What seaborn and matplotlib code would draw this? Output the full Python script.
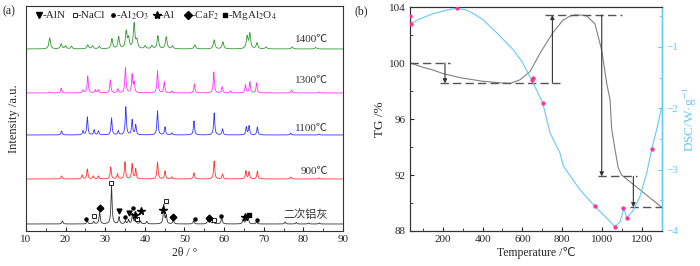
import numpy as np
import pandas as pd
import matplotlib
matplotlib.use('Agg')
import matplotlib.pyplot as plt
import seaborn as sns

sns.set_theme(style='ticks')
plt.rcParams['font.family'] = ['Liberation Serif', 'DejaVu Sans', 'Noto Sans CJK SC']
plt.rcParams['mathtext.fontset'] = 'stix'
plt.rcParams['font.size'] = 8

# ---- (a) XRD: peak positions (2theta) and heights ----
green_pos = [16.0, 18.9, 20.0, 21.5, 25.6, 26.8, 28.5, 31.7, 33.4, 35.3, 35.9, 37.3, 38.0, 40.1, 41.8,
             43.3, 45.4, 47.0, 52.6, 57.5, 59.7, 65.8, 66.5, 68.3, 70.6, 77.2, 83.1]
green_h = [11, 5, 3, 2.5, 4, 3, 2.5, 10, 12, 17, 10, 25, 8, 3, 3,
           13, 12, 3, 4, 9, 7, 12, 15, 6, 2, 2, 1.5]
magenta_pos = [16.0, 18.9, 24.4, 25.6, 27.5, 28.3, 31.3, 33.2, 35.1, 36.8, 37.3, 43.2, 44.9, 46.8,
               52.5, 57.4, 59.5, 61.6, 65.4, 66.5, 68.2, 77.0, 84.0]
magenta_h = [1, 5, 3, 17, 3, 3, 13, 4, 25, 18, 10, 22, 11, 2,
             9, 21, 6, 2, 8, 11, 10, 3, 1]
blue_pos = [19.0, 24.4, 25.5, 27.2, 28.3, 31.6, 33.3, 35.2, 36.8, 37.7, 43.2, 45.1, 46.8,
            52.4, 57.5, 59.6, 65.6, 66.3, 68.4, 76.8, 84.0]
blue_h = [4, 4, 18, 5, 4, 17, 4, 28, 15, 10, 24, 8, 2,
          14, 22, 6, 8, 9, 8, 2, 1]
red_pos = [19.0, 24.2, 25.5, 27.0, 28.3, 31.4, 33.1, 35.0, 36.8, 37.7, 43.2, 45.1, 46.8,
           52.4, 57.5, 59.6, 65.5, 66.3, 68.4, 76.8, 84.0]
red_h = [3, 4, 10, 3, 3, 12, 5, 17, 15, 10, 17, 8, 2,
         6, 18, 5, 8, 7, 8, 2, 1]
black_pos = [19.2, 25.5, 27.1, 28.6, 31.6, 33.5, 35.1, 35.9, 36.9, 37.6, 38.9, 40.5, 44.8, 45.4,
             47.2, 52.3, 55.9, 56.5, 57.3, 59.4, 64.8, 65.6, 66.1, 68.2, 75.4, 78.2, 81.3, 84.0]
black_h = [3, 3, 2.5, 12, 38, 7, 3, 4, 10, 6, 3, 2.5, 19, 8,
           4, 3, 4, 3, 3, 7, 5, 6, 5, 2, 2, 1.5, 1, 1]

samples = ['1400℃', '1300℃', '1100℃', '900℃', '二次铝灰']
sample_pos = [green_pos, magenta_pos, blue_pos, red_pos, black_pos]
sample_h = [green_h, magenta_h, blue_h, red_h, black_h]
offsets = [182, 138, 96, 52, 7]
colors = ['#2f9a2f', '#ff33ff', '#3333ff', '#ff3333', '#333333']

# phase markers on the raw ash pattern: (2theta, height)
aln_x, aln_y = [33.4, 35.9], [20.3, 18]
nacl_x, nacl_y = [27.3, 31.5, 38.0, 45.3, 57.4], [14.7, 48, 12, 29.7, 10.7]
al2o3_x, al2o3_y = [25.2, 35.1, 37.0, 52.6, 59.3, 68.2], [12, 14, 23, 12, 14.7, 10.7]
al_x, al_y = [37.6, 39.0, 44.7, 65.2], [16.3, 19.7, 20.7, 14]
caf2_x, caf2_y = [28.6, 47.1, 56.1], [23, 14, 13]
mgal_x, mgal_y = [66.2], [16.3]

phase_names = ['-AlN', '-NaCl', '-Al$_2$O$_3$', '-Al', '-CaF$_2$', '-MgAl$_2$O$_4$']
phase_key_x = [13.4, 22.4, 32.1, 43.1, 50.9, 60.3]

# ---- (b) TG / DSC ----
tg_T = [36, 100, 150, 200, 287, 400, 500, 540, 588, 639, 689, 755, 805, 840, 865, 900, 924, 965,
        999, 1024, 1041, 1049, 1066, 1082, 1099, 1300]
tg_v = [100.0, 99.7, 99.5, 99.25, 98.95, 98.7, 98.57, 98.55, 98.8, 99.4, 100.7, 102.2, 103.07, 103.35,
        103.43, 103.42, 103.36, 102.8, 100.9, 98.55, 97.36, 95.3, 93.8, 92.5, 92.0, 89.7]
dsc_T = [33, 40, 80, 150, 220, 270, 320, 360, 403, 471, 555, 600, 647, 702, 739, 789, 806, 890, 965,
         1024, 1066, 1091, 1111, 1125, 1158, 1191, 1225, 1250, 1275, 1300]
dsc_v = [-0.50, -0.62, -0.55, -0.46, -0.40, -0.37, -0.40, -0.47, -0.56, -0.77, -1.05, -1.25, -1.54,
         -1.91, -2.40, -2.73, -2.94, -3.33, -3.60, -3.79, -3.93, -3.85, -3.63, -3.79, -3.66, -3.44,
         -3.06, -2.67, -2.35, -1.99]
pink_T = [33, 40, 270, 647, 652, 702, 965, 1066, 1108, 1125, 1250]
pink_v = [-0.50, -0.62, -0.37, -1.54, -1.51, -1.91, -3.60, -3.93, -3.62, -3.79, -2.67]

# mass change guide levels
levels = [100.0, 98.55, 103.43, 91.9, 89.7]
level_span = [(36, 237), (187, 790), (714, 1099), (981, 1175), (1141, 1300)]
arrow_T = [211, 751, 999, 1158]

fig = plt.figure(figsize=(7, 2.66), dpi=100)
ax1 = fig.add_axes([0.037, 0.1316, 0.453, 0.846])
ax2 = fig.add_axes([0.5857, 0.1316, 0.36, 0.842])

# build the patterns from the peak list
grid = np.arange(10, 90.001, 0.02)
rows = []
for name, pos, h, off in zip(samples, sample_pos, sample_h, offsets):
    g = 0.24 if name == '1400℃' else 0.17
    y = np.full_like(grid, off, dtype=float)
    for p, hh in zip(pos, h):
        y += hh * g**2 / ((grid - p)**2 + g**2)
    rows.append(pd.DataFrame({'two_theta': grid, 'intensity': y, 'sample': name}))
xrd = pd.concat(rows, ignore_index=True)

sns.lineplot(data=xrd, x='two_theta', y='intensity', hue='sample', palette=colors,
             hue_order=samples, legend=False, linewidth=0.6, ax=ax1, estimator=None)

mk = dict(color='black', linestyle='none', zorder=5)
ax1.plot(aln_x, aln_y, marker='v', ms=3.5, **mk)
ax1.plot(nacl_x, nacl_y, marker='s', ms=2.6, mfc='white', mew=0.6, **mk)
ax1.plot(al2o3_x, al2o3_y, marker='o', ms=2.2, **mk)
ax1.plot(al_x, al_y, marker='*', ms=5.5, **mk)
ax1.plot(caf2_x, caf2_y, marker='D', ms=3.4, **mk)
ax1.plot(mgal_x, mgal_y, marker='s', ms=2.6, **mk)

# phase key along the top
key_style = [dict(marker='v', ms=3.8), dict(marker='s', ms=2.8, mfc='white', mew=0.6),
             dict(marker='o', ms=2.4), dict(marker='*', ms=6), dict(marker='D', ms=3.6),
             dict(marker='s', ms=2.8)]
for kx, nm, st in zip(phase_key_x, phase_names, key_style):
    ax1.plot([kx], [216], **mk, **st)
    ax1.text(kx + 0.7, 215, nm, ha='left', va='center', fontsize=8)

label_y = [191, 150, 102, 59, 16]
for name, ly in zip(samples, label_y):
    fam = ['Noto Sans CJK SC'] if name == '二次铝灰' else ['Liberation Serif', 'Noto Sans CJK SC']
    ax1.text(86.3, ly, name, ha='right', va='center', fontsize=8, family=fam, color='#333333')

ax1.set_xlim(10, 90)
ax1.set_ylim(0, 225)
ax1.set_xticks(range(10, 91, 10))
ax1.set_xticks(range(15, 90, 10), minor=True)
ax1.set_yticks([])
ax1.tick_params(axis='x', direction='in', length=3, width=0.8, labelsize=8, pad=3)
ax1.tick_params(axis='x', which='minor', direction='in', length=2, width=0.6)
ax1.set_xlabel('2θ / °', fontsize=8.5, labelpad=2)
ax1.set_ylabel('Intensity /a.u.', fontsize=9, labelpad=4)
for s in ax1.spines.values():
    s.set_linewidth(0.8)
    s.set_color('#333333')

# ---- (b) ----
blue_l = '#66c8f5'
axr = ax2.twinx()
sns.lineplot(x=dsc_T, y=dsc_v, color=blue_l, linewidth=0.8, ax=axr, estimator=None)
axr.plot(pink_T, pink_v, linestyle='none', marker='o', ms=2.1, color='#ff3399', zorder=5)
sns.lineplot(x=tg_T, y=tg_v, color='#808080', linewidth=0.8, ax=ax2, estimator=None)

dash = dict(color='#555555', linestyle=(0, (6, 3)), linewidth=1.0)
for lv, (a, b) in zip(levels, level_span):
    ax2.plot([a, b], [lv, lv], **dash)
for t, y0, y1 in zip(arrow_T, levels[:-1], levels[1:]):
    ax2.annotate('', xy=(t, y1), xytext=(t, y0),
                 arrowprops=dict(arrowstyle='-|>', color='#333333', lw=0.8,
                                 mutation_scale=6, shrinkA=0, shrinkB=0))

ax2.set_xlim(35, 1302)
ax2.set_ylim(88, 104)
ax2.set_xticks(range(200, 1201, 200))
ax2.set_xticks(range(100, 1301, 200), minor=True)
ax2.set_yticks([88, 92, 96, 100, 104])
ax2.set_yticks([90, 94, 98, 102], minor=True)
ax2.tick_params(direction='in', length=3, width=0.8, labelsize=8, pad=3)
ax2.tick_params(which='minor', direction='in', length=2, width=0.6)
ax2.set_xlabel('Temperature /℃', fontsize=8.5, labelpad=2)
ax2.set_ylabel('TG /%', fontsize=9.5, labelpad=2)

axr.set_ylim(-4, -0.35)
axr.set_yticks([-4, -3, -2, -1])
axr.set_yticks([-3.5, -2.5, -1.5, -0.5], minor=True)
axr.tick_params(axis='y', direction='in', length=3, width=0.8, labelsize=8, colors=blue_l, pad=3)
axr.tick_params(axis='y', which='minor', direction='in', length=2, width=0.6, colors=blue_l)
axr.set_ylabel('DSC/W·g$^{-1}$', fontsize=9.5, color=blue_l, labelpad=2)
for s in ax2.spines.values():
    s.set_linewidth(0.8)
    s.set_color('#333333')
for name, s in axr.spines.items():
    s.set_linewidth(0.8)
    s.set_color('#333333')
axr.spines['right'].set_color(blue_l)
axr.spines['right'].set_linewidth(1.0)

fig.text(0.004, 0.958, '(a)', fontsize=8.5, va='center')
fig.text(0.507, 0.958, '(b)', fontsize=8.5, va='center')

fig.savefig('out.png', dpi=100)
